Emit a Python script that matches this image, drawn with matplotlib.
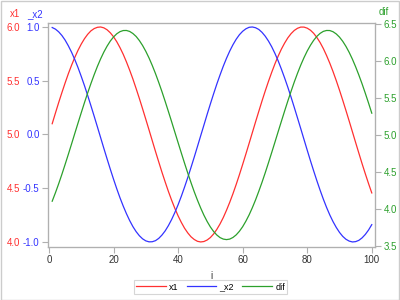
import matplotlib
matplotlib.use("Agg")
import matplotlib.pyplot as plt
from matplotlib.lines import Line2D

i_vals = list(range(1, 101))

x1 = [5.100, 5.199, 5.296, 5.389, 5.479, 5.565, 5.644, 5.717, 5.783, 5.841,
      5.891, 5.932, 5.964, 5.985, 5.997, 6.000, 5.992, 5.974, 5.946, 5.909,
      5.863, 5.808, 5.746, 5.675, 5.598, 5.516, 5.427, 5.335, 5.239, 5.141,
      5.042, 4.942, 4.842, 4.745, 4.649, 4.558, 4.470, 4.388, 4.312, 4.243,
      4.182, 4.128, 4.084, 4.048, 4.023, 4.006, 4.000, 4.004, 4.018, 4.041,
      4.074, 4.117, 4.168, 4.227, 4.295, 4.369, 4.449, 4.535, 4.626, 4.721,
      4.818, 4.917, 5.017, 5.117, 5.215, 5.312, 5.405, 5.494, 5.578, 5.657,
      5.729, 5.794, 5.850, 5.899, 5.938, 5.968, 5.988, 5.999, 5.999, 5.989,
      5.970, 5.941, 5.902, 5.855, 5.799, 5.734, 5.663, 5.585, 5.501, 5.412,
      5.319, 5.223, 5.125, 5.025, 4.925, 4.826, 4.728, 4.634, 4.543, 4.456]

x2 = [0.995, 0.980, 0.955, 0.921, 0.878, 0.825, 0.765, 0.697, 0.622, 0.540,
      0.454, 0.362, 0.267, 0.170, 0.071, -0.029, -0.129, -0.227, -0.323, -0.416,
      -0.505, -0.589, -0.666, -0.737, -0.801, -0.857, -0.904, -0.942, -0.971, -0.990,
      -0.999, -0.998, -0.988, -0.967, -0.936, -0.897, -0.848, -0.791, -0.726, -0.654,
      -0.575, -0.490, -0.401, -0.307, -0.211, -0.112, -0.012, 0.087, 0.187, 0.284,
      0.378, 0.469, 0.554, 0.635, 0.709, 0.776, 0.835, 0.886, 0.928, 0.960,
      0.983, 0.997, 1.000, 0.993, 0.977, 0.950, 0.914, 0.869, 0.816, 0.754,
      0.685, 0.608, 0.526, 0.439, 0.347, 0.251, 0.153, 0.054, -0.046, -0.146,
      -0.244, -0.339, -0.431, -0.519, -0.602, -0.679, -0.749, -0.811, -0.865, -0.911,
      -0.948, -0.975, -0.992, -1.000, -0.997, -0.985, -0.962, -0.930, -0.889, -0.839]

dif = [4.105, 4.219, 4.340, 4.468, 4.602, 4.739, 4.879, 5.021, 5.162, 5.301,
       5.438, 5.570, 5.696, 5.815, 5.927, 6.029, 6.121, 6.201, 6.270, 6.325,
       6.368, 6.397, 6.412, 6.413, 6.400, 6.372, 6.332, 6.277, 6.210, 6.131,
       6.041, 5.940, 5.830, 5.711, 5.586, 5.454, 5.318, 5.179, 5.038, 4.897,
       4.757, 4.619, 4.485, 4.356, 4.233, 4.119, 4.013, 3.916, 3.831, 3.757,
       3.696, 3.648, 3.613, 3.593, 3.586, 3.593, 3.615, 3.650, 3.699, 3.760,
       3.835, 3.920, 4.017, 4.123, 4.239, 4.361, 4.490, 4.625, 4.763, 4.903,
       5.045, 5.185, 5.324, 5.460, 5.591, 5.717, 5.835, 5.945, 6.045, 6.135,
       6.213, 6.280, 6.334, 6.374, 6.401, 6.413, 6.412, 6.396, 6.366, 6.323,
       6.267, 6.198, 6.117, 6.025, 5.922, 5.810, 5.691, 5.564, 5.432, 5.295]

x_ticks = [0, 20, 40, 60, 80, 100]
x1_ticks = [4.0, 4.5, 5.0, 5.5, 6.0]
x2_ticks = [-1.0, -0.5, 0.0, 0.5, 1.0]
dif_ticks = [3.5, 4.0, 4.5, 5.0, 5.5, 6.0, 6.5]

RED = "#ff3030"
BLUE = "#3333ff"
GREEN = "#2ca02c"
FRAME = "#b0b0b0"
TXT = "#333333"

plt.rcParams['font.family'] = ['Liberation Sans', 'DejaVu Sans']
FS = 7

W, H = 400, 300
fig = plt.figure(figsize=(4, 3), dpi=100)
fig.patch.set_facecolor("white")
L, R, T, B = 48, 375, 23, 247
ax = fig.add_axes([L / W, 1 - B / H, (R - L) / W, (B - T) / H])

ax.plot(i_vals, x1, color=RED, lw=0.9)
ax.set_xlim(-0.3, 101)
ax.set_ylim(3.953, 6.037)
ax.set_xticks(x_ticks)
ax.set_yticks(x1_ticks)
ax.set_yticklabels([f"{v:.1f}" for v in x1_ticks])
ax.tick_params(axis='y', colors=RED, labelsize=FS, length=0, pad=20)
ax.tick_params(axis='x', colors=TXT, labelsize=FS, length=4, color=FRAME, pad=2)

ax2 = ax.twinx()
ax2.plot(i_vals, x2, color=BLUE, lw=0.9)
ax2.set_ylim(-1.0 - 0.047, 1.0 + 0.037)
ax2.yaxis.tick_left()
ax2.set_yticks(x2_ticks)
ax2.set_yticklabels([f"{v:.1f}" for v in x2_ticks])
ax2.tick_params(axis='y', colors=BLUE, labelsize=FS, length=4, color=FRAME, pad=2)
for lbl in ax2.get_yticklabels():
    lbl.set_color(BLUE)

ax3 = ax.twinx()
ax3.plot(i_vals, dif, color=GREEN, lw=0.9)
ax3.set_ylim(3.486, 6.514)
ax3.set_yticks(dif_ticks)
ax3.set_yticklabels([f"{v:.1f}" for v in dif_ticks])
ax3.tick_params(axis='y', colors=GREEN, labelsize=FS, length=4, color=FRAME, pad=2)
for lbl in ax3.get_yticklabels():
    lbl.set_color(GREEN)
for lbl in ax.get_yticklabels():
    lbl.set_color(RED)

for a in (ax, ax2, ax3):
    for s in a.spines.values():
        s.set_color(FRAME)
        s.set_linewidth(0.8)

ax.set_xlabel("i", fontsize=FS, color=TXT, labelpad=4)

fig.text(10 / W, 1 - 14 / H, "x1", color=RED, fontsize=FS, va='center', ha='left')
fig.text(27 / W, 1 - 14 / H, "_x2", color=BLUE, fontsize=FS, va='center', ha='left')
fig.text(379 / W, 1 - 12 / H, "dif", color=GREEN, fontsize=FS, va='center', ha='left')

handles = [Line2D([], [], color=RED, lw=0.9),
           Line2D([], [], color=BLUE, lw=0.9),
           Line2D([], [], color=GREEN, lw=0.9)]
leg = fig.legend(handles, ["x1", "_x2", "dif"], loc='center',
                 bbox_to_anchor=(210.5 / W, 1 - 287 / H), ncol=3, fontsize=6.5,
                 frameon=True, fancybox=False, handlelength=3.3, handletextpad=0.35,
                 columnspacing=0.9, borderpad=0.25, borderaxespad=0)
leg.get_frame().set_edgecolor("#cccccc")
leg.get_frame().set_linewidth(0.8)

fig.add_artist(plt.Rectangle((0.5 / W, 0.5 / H), 1 - 1.5 / W, 1 - 1.5 / H,
                             transform=fig.transFigure, fill=False,
                             edgecolor="#cccccc", lw=1.0))

fig.savefig("out.png", dpi=100)
